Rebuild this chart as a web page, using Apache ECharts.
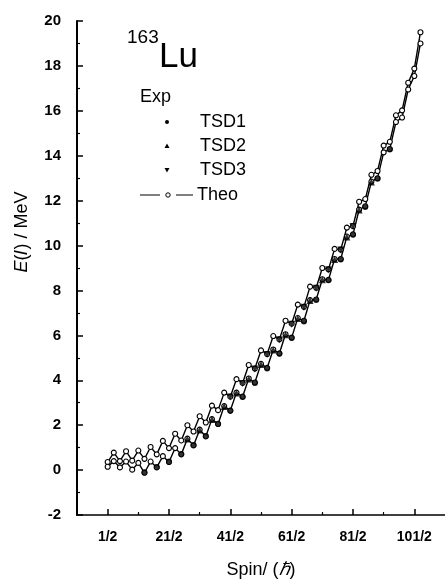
<!DOCTYPE html>
<html>
<head>
<meta charset="utf-8">
<script src="https://cdn.jsdelivr.net/npm/echarts@6/dist/echarts.min.js"></script>
<style>
  html, body { margin: 0; padding: 0; background: #fff; }
  #chart-container { width: 445px; height: 585px; }
</style>
</head>
<body>
<div id="chart-container"></div>
<script>
// spin values (in units of hbar), 1/2 ... 103/2
var spins = [0.5, 1.5, 2.5, 3.5, 4.5, 5.5, 6.5, 7.5, 8.5, 9.5,
  10.5, 11.5, 12.5, 13.5, 14.5, 15.5, 16.5, 17.5, 18.5, 19.5,
  20.5, 21.5, 22.5, 23.5, 24.5, 25.5, 26.5, 27.5, 28.5, 29.5,
  30.5, 31.5, 32.5, 33.5, 34.5, 35.5, 36.5, 37.5, 38.5, 39.5,
  40.5, 41.5, 42.5, 43.5, 44.5, 45.5, 46.5, 47.5, 48.5, 49.5,
  50.5, 51.5];

// theory, upper zigzag
var theoUpper = [0.36, 0.78, 0.40, 0.84, 0.42, 0.87, 0.50, 1.03, 0.70, 1.30,
  0.98, 1.62, 1.32, 2.00, 1.72, 2.40, 2.12, 2.87, 2.67, 3.45,
  3.27, 4.05, 3.88, 4.68, 4.52, 5.33, 5.17, 5.97, 5.82, 6.65,
  6.52, 7.37, 7.27, 8.17, 8.12, 9.00, 8.94, 9.85, 9.82, 10.80,
  10.87, 11.95, 12.07, 13.15, 13.32, 14.45, 14.62, 15.80, 16.02, 17.25,
  17.88, 19.50];

// theory, lower zigzag
var theoLower = [0.15, 0.40, 0.12, 0.38, 0.02, 0.32, -0.12, 0.38, 0.12, 0.62,
  0.36, 0.98, 0.70, 1.40, 1.10, 1.80, 1.50, 2.27, 2.05, 2.85,
  2.65, 3.45, 3.27, 4.08, 3.90, 4.73, 4.55, 5.37, 5.20, 6.05,
  5.90, 6.77, 6.65, 7.57, 7.60, 8.50, 8.47, 9.40, 9.40, 10.40,
  10.50, 11.60, 11.75, 12.85, 13.00, 14.15, 14.30, 15.50, 15.70, 16.95,
  17.55, 19.00];

// experiment
var tsd1Spin = [6.5, 8.5, 10.5, 12.5, 14.5, 16.5, 18.5, 20.5, 22.5, 24.5, 26.5,
  28.5, 30.5, 32.5, 34.5, 36.5, 38.5, 40.5, 42.5, 44.5, 46.5];
var tsd1E = [-0.10, 0.14, 0.38, 0.72, 1.12, 1.52, 2.06, 2.64, 3.26, 3.88, 4.52,
  5.18, 5.88, 6.62, 7.58, 8.45, 9.38, 10.48, 11.72, 12.98, 14.28];

var tsd2Spin = [13.5, 15.5, 17.5, 19.5, 21.5, 23.5, 25.5, 27.5, 29.5, 31.5,
  33.5, 35.5, 37.5, 39.5, 41.5, 43.5];
var tsd2E = [1.38, 1.78, 2.25, 2.83, 3.43, 4.06, 4.70, 5.35, 6.03, 6.75,
  7.55, 8.48, 9.38, 10.38, 11.58, 12.83];

var tsd3Spin = [20.5, 22.5, 24.5, 26.5, 28.5, 30.5, 32.5, 34.5, 36.5, 38.5, 40.5];
var tsd3E = [3.25, 3.86, 4.50, 5.15, 5.80, 6.50, 7.25, 8.10, 8.92, 9.80, 10.85];

// axis ticks
var xMajorTicks = [0.5, 10.5, 20.5, 30.5, 40.5, 50.5];
var xTickLabels = ["1/2", "21/2", "41/2", "61/2", "81/2", "101/2"];
var xMinorTicks = [5.5, 15.5, 25.5, 35.5, 45.5];

var font = "'Liberation Sans', Arial, Helvetica, sans-serif";

function pairs(xs, ys) {
  return xs.map(function (x, i) {
    return [x, ys[i]];
  });
}

var dom = document.getElementById("chart-container");
var myChart = echarts.init(dom, null, { renderer: "canvas" });

var theoStyle = {
  type: "line",
  symbol: "circle",
  symbolSize: 5,
  showSymbol: true,
  itemStyle: { color: "#fff", borderColor: "#000", borderWidth: 1.1 },
  lineStyle: { color: "#000", width: 1.4 },
  z: 2,
};

var option = {
  animation: false,
  backgroundColor: "#fff",
  textStyle: { fontFamily: font, color: "#000" },
  grid: { left: 77, right: -4, top: 21, bottom: 70 },
  xAxis: [
    {
      type: "value",
      min: -4.5,
      max: 55.5,
      position: "bottom",
      splitLine: { show: false },
      axisLine: { onZero: false, lineStyle: { color: "#000", width: 1.5 } },
      axisTick: {
        inside: true,
        length: 6,
        lineStyle: { color: "#000", width: 1.5 },
        customValues: xMajorTicks,
      },
      axisLabel: {
        customValues: xMajorTicks,
        formatter: function (v) {
          var i = xMajorTicks.indexOf(v);
          return i >= 0 ? xTickLabels[i] : "";
        },
        color: "#000",
        fontFamily: font,
        fontWeight: "bold",
        fontSize: 14,
        margin: 15,
      },
      name: "Spin/ ({h|ℏ})",
      nameLocation: "middle",
      nameGap: 46,
      nameTextStyle: {
        fontFamily: font,
        fontSize: 18,
        color: "#000",
        rich: { h: { fontFamily: font, fontSize: 18, fontStyle: "italic" } },
      },
    },
    {
      type: "value",
      min: -4.5,
      max: 55.5,
      position: "bottom",
      offset: 0,
      splitLine: { show: false },
      axisLine: { show: false, onZero: false },
      axisTick: {
        inside: true,
        length: 3,
        lineStyle: { color: "#000", width: 1.2 },
        customValues: xMinorTicks,
      },
      axisLabel: { show: false },
    },
  ],
  yAxis: {
    type: "value",
    min: -2,
    max: 20,
    interval: 2,
    splitLine: { show: false },
    axisLine: { show: true, onZero: false, lineStyle: { color: "#000", width: 2 } },
    axisTick: { inside: true, length: 6, lineStyle: { color: "#000", width: 1.5 } },
    minorTick: { show: true, splitNumber: 2, length: 3, lineStyle: { color: "#000", width: 1.2 } },
    minorSplitLine: { show: false },
    axisLabel: {
      color: "#000",
      fontFamily: font,
      fontWeight: "bold",
      fontSize: 15,
      margin: 16,
    },
  },
  graphic: [
    {
      type: "text",
      x: 22,
      y: 232,
      rotation: Math.PI / 2,
      style: {
        text: "{i|E}(\u{1D43C}) / MeV",
        font: "18px " + font,
        fill: "#000",
        textAlign: "center",
        textVerticalAlign: "middle",
        rich: { i: { fontStyle: "italic", fontSize: 18, fontFamily: font } },
      },
    },
    { type: "text", x: 127, y: 38, style: { text: "163", font: "19px " + font, fill: "#000", textVerticalAlign: "middle" } },
    { type: "text", x: 159, y: 57, style: { text: "Lu", font: "35px " + font, fill: "#000", textVerticalAlign: "middle" } },
    { type: "text", x: 140, y: 97, style: { text: "Exp", font: "18px " + font, fill: "#000", textVerticalAlign: "middle" } },
    { type: "text", x: 200, y: 122, style: { text: "TSD1", font: "18px " + font, fill: "#000", textVerticalAlign: "middle" } },
    { type: "text", x: 200, y: 146, style: { text: "TSD2", font: "18px " + font, fill: "#000", textVerticalAlign: "middle" } },
    { type: "text", x: 200, y: 170, style: { text: "TSD3", font: "18px " + font, fill: "#000", textVerticalAlign: "middle" } },
    { type: "text", x: 197, y: 195, style: { text: "Theo", font: "18px " + font, fill: "#000", textVerticalAlign: "middle" } },
    { type: "circle", shape: { cx: 167, cy: 122, r: 2 }, style: { fill: "#000" } },
    { type: "polygon", shape: { points: [[167, 143.5], [164.5, 148], [169.5, 148]] }, style: { fill: "#000" } },
    { type: "polygon", shape: { points: [[164.5, 168], [169.5, 168], [167, 172.5]] }, style: { fill: "#000" } },
    { type: "line", shape: { x1: 140, y1: 195, x2: 160, y2: 195 }, style: { stroke: "#000", lineWidth: 1 } },
    { type: "circle", shape: { cx: 168, cy: 195, r: 2.2 }, style: { fill: "#fff", stroke: "#000", lineWidth: 1 } },
    { type: "line", shape: { x1: 176, y1: 195, x2: 193, y2: 195 }, style: { stroke: "#000", lineWidth: 1 } },
  ],
  series: [
    Object.assign({ name: "Theo", data: pairs(spins, theoUpper) }, theoStyle),
    Object.assign({ name: "Theo2", data: pairs(spins, theoLower) }, theoStyle),
    {
      name: "TSD1",
      type: "scatter",
      symbol: "circle",
      symbolSize: 6,
      itemStyle: { color: "#000" },
      data: pairs(tsd1Spin, tsd1E),
      z: 3,
    },
    {
      name: "TSD2",
      type: "scatter",
      symbol: "triangle",
      symbolSize: 7,
      itemStyle: { color: "#000" },
      data: pairs(tsd2Spin, tsd2E),
      z: 3,
    },
    {
      name: "TSD3",
      type: "scatter",
      symbol: "triangle",
      symbolRotate: 180,
      symbolSize: 7,
      itemStyle: { color: "#000" },
      data: pairs(tsd3Spin, tsd3E),
      z: 3,
    },
  ],
};

myChart.setOption(option);
window.addEventListener("resize", myChart.resize);
</script>
</body>
</html>
